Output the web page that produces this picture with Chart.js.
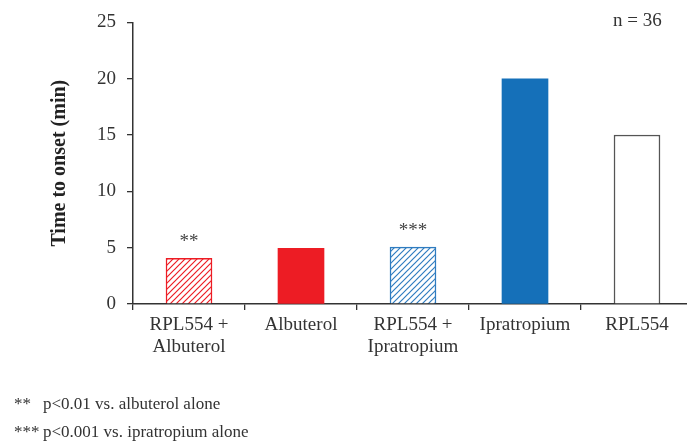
<!DOCTYPE html>
<html><head><meta charset="utf-8">
<script src="https://cdn.jsdelivr.net/npm/chart.js@4"></script>
<style>
html,body{margin:0;padding:0;background:#fff;overflow:hidden;}
#wrap{position:relative;width:687px;height:441px;overflow:hidden;}
.t{position:absolute;font-family:"Liberation Serif","Times New Roman",serif;color:#333;font-size:17px;white-space:pre;line-height:20px;}
</style></head><body>
<div id="wrap"><canvas id="c" width="700" height="441"></canvas>
<div class="t" style="left:613px;top:9px;font-size:19px;line-height:22px;">n = 36</div>
<div class="t" style="left:14px;top:394px;">**</div><div class="t" style="left:43px;top:394px;">p&lt;0.01 vs. albuterol alone</div>
<div class="t" style="left:14px;top:422px;">***</div><div class="t" style="left:43px;top:422px;">p&lt;0.001 vs. ipratropium alone</div>
</div>
<script>
const categories = [["RPL554 +","Albuterol"],["Albuterol"],["RPL554 +","Ipratropium"],["Ipratropium"],["RPL554"]];
const values = [4.05, 4.95, 5.05, 20, 15];
const significance = ["**", "", "***", "", ""];
const yTicks = [0,5,10,15,20,25];

const ctx = document.getElementById('c').getContext('2d');
function hatch(color){
  const s=6, c=document.createElement('canvas'); c.width=s; c.height=s;
  const x=c.getContext('2d'); x.fillStyle='#fff'; x.fillRect(0,0,s,s);
  x.strokeStyle=color; x.lineWidth=1.2;
  x.beginPath();
  x.moveTo(0,s); x.lineTo(s,0);
  x.moveTo(-s/2,s/2); x.lineTo(s/2,-s/2);
  x.moveTo(s/2,s*1.5); x.lineTo(s*1.5,s/2);
  x.stroke();
  return ctx.createPattern(c,'repeat');
}
const red='#ED1C24', blue='#1570B9';
const bg=[hatch(red), red, hatch('#2F7CC0'), blue, '#fff'];
const bc=[red, red, '#2F7CC0', blue, '#555'];
const bw=[1.5,0,1.5,0,1.5];

const starPlugin={id:'stars',afterDatasetsDraw(chart){
  const c=chart.ctx, meta=chart.getDatasetMeta(0);
  c.save(); c.font='19px "Liberation Serif", serif'; c.fillStyle='#444';
  c.textAlign='center'; c.textBaseline='middle';
  meta.data.forEach((b,i)=>{ if(significance[i]) c.fillText(significance[i], b.x, b.y-16); });
  c.restore();
}};

const font={family:'"Liberation Serif","Times New Roman",serif',size:19};
new Chart(ctx,{
  type:'bar',
  data:{labels:categories,datasets:[{data:values,backgroundColor:bg,borderColor:bc,borderWidth:bw,barThickness:46,borderSkipped:'start'}]},
  options:{
    responsive:false,animation:false,
    layout:{padding:{left:48,right:7,top:20,bottom:77}},
    plugins:{legend:{display:false},tooltip:{enabled:false}},
    scales:{
      x:{offset:true,
        grid:{offset:true,drawOnChartArea:false,drawTicks:true,tickLength:6,color:'#333',lineWidth:1.3},
        border:{color:'#333',width:1.5},
        ticks:{color:'#333',font:{...font,lineHeight:1.16},padding:4,maxRotation:0,autoSkip:false},
        afterFit(s){s.height=60;}
      },
      y:{min:0,max:25,
        afterBuildTicks(s){s.ticks=yTicks.map(v=>({value:v}));},
        grid:{drawOnChartArea:false,tickLength:6,color:'#333',lineWidth:1.3},
        border:{color:'#333',width:1.5},
        ticks:{color:'#333',font:font,padding:11},
        title:{display:true,text:'Time to onset (min)',color:'#222',font:{...font,size:20,weight:'bold'},padding:{top:0,bottom:0}},
        afterFit(s){s.width=85;}
      }
    }
  },
  plugins:[starPlugin]
});
</script>
</body></html>
